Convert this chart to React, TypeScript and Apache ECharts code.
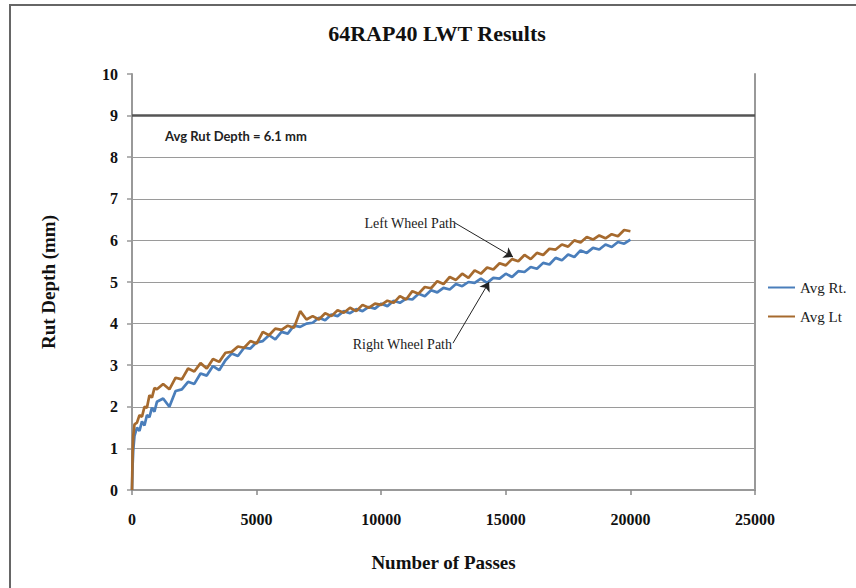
import React, { useEffect, useRef } from "react";
import * as echarts from "echarts";

const passes = [
  0, 25, 50, 100, 200, 300, 400, 500, 600, 700, 800, 900,
  1000, 1250, 1500, 1750, 2000, 2250, 2500, 2750, 3000, 3250, 3500, 3750,
  4000, 4250, 4500, 4750, 5000, 5250, 5500, 5750, 6000, 6250, 6500, 6750,
  7000, 7250, 7500, 7750, 8000, 8250, 8500, 8750, 9000, 9250, 9500, 9750,
  10000, 10250, 10500, 10750, 11000, 11250, 11500, 11750, 12000, 12250, 12500, 12750,
  13000, 13250, 13500, 13750, 14000, 14250, 14500, 14750, 15000, 15250, 15500, 15750,
  16000, 16250, 16500, 16750, 17000, 17250, 17500, 17750, 18000, 18250, 18500, 18750,
  19000, 19250, 19500, 19750, 20000,
];

const avgRt = [
  0, 0.6, 0.95, 1.3, 1.5, 1.42, 1.65, 1.55, 1.8, 1.75, 1.98, 1.88,
  2.12, 2.2, 2.0, 2.38, 2.42, 2.6, 2.55, 2.8, 2.75, 2.98, 2.88, 3.12,
  3.28, 3.22, 3.42, 3.4, 3.55, 3.58, 3.72, 3.62, 3.8, 3.76, 3.95, 3.92,
  4.0, 4.02, 4.14, 4.08, 4.22, 4.18, 4.3, 4.25, 4.35, 4.3, 4.4, 4.36,
  4.48, 4.42, 4.55, 4.5, 4.6, 4.58, 4.72, 4.66, 4.8, 4.75, 4.86, 4.82,
  4.95, 4.9, 5.0, 4.98, 5.08, 4.98, 5.1, 5.08, 5.2, 5.12, 5.26, 5.24,
  5.36, 5.32, 5.46, 5.42, 5.58, 5.52, 5.66, 5.6, 5.76, 5.7, 5.82, 5.78,
  5.9, 5.84, 5.96, 5.92, 6.02,
];

const avgLt = [
  0, 0.9, 1.3, 1.58, 1.62, 1.8, 1.76, 2.0, 1.98, 2.28, 2.22, 2.45,
  2.42, 2.55, 2.42, 2.7, 2.66, 2.92, 2.85, 3.05, 2.92, 3.15, 3.08, 3.3,
  3.32, 3.45, 3.42, 3.58, 3.52, 3.8, 3.72, 3.88, 3.85, 3.95, 3.9, 4.3,
  4.1, 4.18, 4.1, 4.25, 4.18, 4.32, 4.26, 4.38, 4.3, 4.45, 4.38, 4.48,
  4.45, 4.55, 4.5, 4.66, 4.58, 4.78, 4.72, 4.88, 4.85, 5.02, 4.95, 5.12,
  5.05, 5.2, 5.1, 5.28, 5.2, 5.35, 5.3, 5.45, 5.4, 5.55, 5.5, 5.65,
  5.55, 5.7, 5.65, 5.8, 5.78, 5.9, 5.85, 6.0, 5.95, 6.08, 6.02, 6.12,
  6.05, 6.15, 6.1, 6.25, 6.22,
];

const seriesNames = ["Avg Rt.", "Avg Lt"];
const avgRutText = "Avg Rut Depth = 6.1 mm";
const thresholdDepth = 9;

const SERIF = "'Liberation Serif', 'Times New Roman', serif";

export default function App() {
  const ref = useRef<HTMLDivElement>(null);

  useEffect(() => {
    if (!ref.current) return;
    const chart = echarts.init(ref.current, undefined, { renderer: "svg" });
    const rt = passes.map((p, i) => [p, avgRt[i]]);
    const lt = passes.map((p, i) => [p, avgLt[i]]);

    chart.setOption({
      animation: false,
      backgroundColor: "#fff",
      title: {
        text: "64RAP40 LWT Results",
        left: 432,
        textAlign: "center",
        top: 17,
        textStyle: { fontFamily: SERIF, fontWeight: "bold", fontSize: 22, color: "#111" },
      },
      legend: {
        orient: "vertical",
        left: 763,
        top: 275,
        itemWidth: 27,
        itemHeight: 2,
        itemGap: 14,
        icon: "rect",
        data: seriesNames,
        textStyle: { fontFamily: SERIF, fontSize: 15, color: "#222" },
      },
      grid: { left: 132, right: 101, top: 74, bottom: 98, containLabel: false },
      xAxis: {
        type: "value",
        min: 0,
        max: 25000,
        interval: 5000,
        name: "Number of Passes",
        nameLocation: "middle",
        nameGap: 63,
        nameTextStyle: { fontFamily: SERIF, fontWeight: "bold", fontSize: 19, color: "#111" },
        axisLine: { show: true, lineStyle: { color: "#999", width: 2 } },
        axisTick: { show: true, length: 5, lineStyle: { color: "#888", width: 1.5 } },
        axisLabel: {
          fontFamily: SERIF,
          fontWeight: "bold",
          fontSize: 16,
          color: "#111",
          margin: 21,
          formatter: (v: number) => String(v),
        },
        splitLine: { show: false },
      },
      yAxis: [
        {
          type: "value",
          min: 0,
          max: 10,
          interval: 1,
          name: "Rut Depth (mm)",
          nameLocation: "middle",
          nameGap: 74,
          nameTextStyle: { fontFamily: SERIF, fontWeight: "bold", fontSize: 19, color: "#111" },
          axisLine: { show: true, lineStyle: { color: "#999", width: 2 } },
          axisTick: { show: true, length: 5, lineStyle: { color: "#999", width: 1.5 } },
          axisLabel: { fontFamily: SERIF, fontWeight: "bold", fontSize: 16, color: "#111", margin: 14 },
          splitLine: { show: true, showMaxLine: false, lineStyle: { color: "#9a9a9a", width: 1.2 } },
        },
        {
          type: "value",
          min: 0,
          max: 10,
          interval: 1,
          position: "right",
          axisLine: { show: true, lineStyle: { color: "#999", width: 2 } },
          axisTick: { show: false },
          axisLabel: { show: false },
          splitLine: { show: false },
        },
      ],
      series: [
        {
          name: seriesNames[0],
          type: "line",
          data: rt,
          showSymbol: false,
          symbol: "none",
          color: "#4A7EBB",
          lineStyle: { color: "#4A7EBB", width: 2.7 },
          markLine: {
            silent: true,
            symbol: ["none", "none"],
            label: { show: false },
            lineStyle: { color: "#555", width: 2.5, type: "solid" },
            data: [{ yAxis: thresholdDepth }],
          },
        },
        {
          name: seriesNames[1],
          type: "line",
          data: lt,
          showSymbol: false,
          symbol: "none",
          color: "#A66A2E",
          lineStyle: { color: "#A66A2E", width: 2.7 },
          markLine: {
            silent: true,
            symbol: ["none", "arrow"],
            symbolSize: 9,
            label: { show: false },
            lineStyle: { color: "#222", width: 1, type: "solid" },
            data: [
              [{ coord: [12960, 6.42] }, { coord: [15290, 5.6] }],
              [{ coord: [12880, 3.53] }, { coord: [14330, 5.0] }],
            ],
          },
        },
      ],
      graphic: [
        {
          type: "rect",
          shape: { x: 10, y: 5, width: 900, height: 700 },
          style: { fill: "none", stroke: "#666", lineWidth: 2 },
          silent: true,
        },
        {
          type: "text",
          x: 165,
          y: 136,
          style: {
            text: avgRutText,
            fontFamily: "Lato, 'Open Sans', sans-serif",
            fontWeight: "bold",
            fontSize: 13,
            fill: "#222",
            textVerticalAlign: "middle",
          },
        },
        {
          type: "text",
          x: 456,
          y: 223,
          style: {
            text: "Left Wheel Path",
            fontFamily: SERIF,
            fontSize: 14,
            fill: "#222",
            textAlign: "right",
            textVerticalAlign: "middle",
          },
        },
        {
          type: "text",
          x: 452,
          y: 344,
          style: {
            text: "Right Wheel Path",
            fontFamily: SERIF,
            fontSize: 14,
            fill: "#222",
            textAlign: "right",
            textVerticalAlign: "middle",
          },
        },
      ],
    });

    return () => chart.dispose();
  }, []);

  return (
    <div
      ref={ref}
      style={{ position: "fixed", left: 0, top: 0, width: 856, height: 588, background: "#fff" }}
    />
  );
}
